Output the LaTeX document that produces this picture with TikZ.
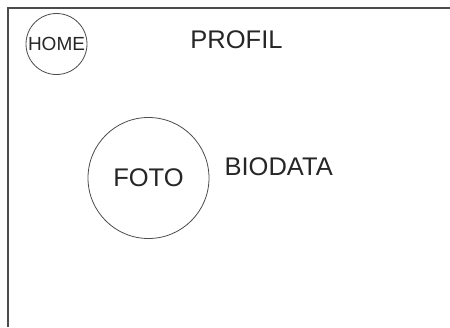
\documentclass[tikz,border=0pt]{standalone}
\usepackage{fontspec}
\setmainfont{Liberation Sans}
\usetikzlibrary{positioning}

\begin{document}
\begin{tikzpicture}
    [
    x = 1pt, y = -1pt,
    every node/.style = {font=\fontsize{25.5}{30}\selectfont, text=black!85, inner sep=0pt},
    bubble/.style     = {circle, draw=black!70, line width=0.8pt},
    frame/.style      = {draw=black!70, line width=2pt}
    ]
    \useasboundingbox (0,0) rectangle (450,327);
    % page border, top and left side only
    \coordinate (topright) at (450,8);
    \coordinate (topleft) at (7.5,8);
    \coordinate (bottomleft) at (7.5,327);
    \draw [frame] (topright) -- (topleft) -- (bottomleft);

    \node [bubble, minimum size=61pt, font=\fontsize{19}{22}\selectfont] (home) at (56.5,44) {HOME};
    \node (profil) at (236.5,39.5) {PROFIL};
    \node [bubble, minimum size=121pt] (foto) at (148.5,178) {FOTO};
    \node [right=15pt of foto, yshift=11.5pt] (biodata) {BIODATA};
\end{tikzpicture}
\end{document}
